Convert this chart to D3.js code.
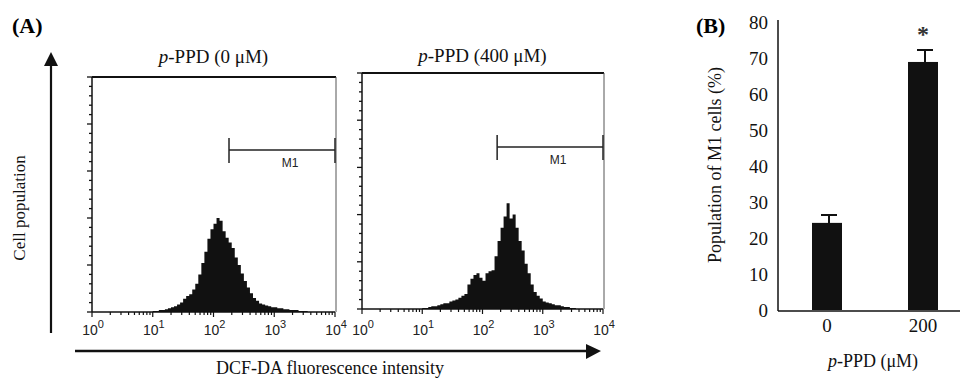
<!DOCTYPE html>
<html>
<head>
<meta charset="utf-8">
<script src="https://cdn.jsdelivr.net/npm/d3@7"></script>
<style>
  body { margin: 0; background: #fff; }
  svg { display: block; }
  .serif { font-family: 'Liberation Serif', 'Times New Roman', serif; }
  .sans { font-family: 'Liberation Sans', Arial, sans-serif; }
</style>
</head>
<body>
<div id="chart"></div>
<script>
// ---- data ----
// histogram channels in log10(intensity) units, one every 0.05 decade
const binLog = d3.range(52).map((i) => 1 + i * 0.05);

// p-PPD 0 uM, counts per channel
const countsControl = [
  1, 1, 2, 2, 3, 4, 5, 6, 8, 10,
  14, 17, 19, 24, 30, 40, 52, 64, 78, 88,
  94, 100, 97, 86, 79, 74, 68, 58, 50, 41,
  33, 26, 20, 15, 12, 9, 8, 7, 6, 5,
  5, 4, 4, 3, 3, 2, 2, 2, 1, 1,
  1, 0,
];

// p-PPD 400 uM, counts per channel
const countsTreated = [
  1, 1, 2, 3, 3, 4, 5, 6, 6, 8,
  9, 10, 12, 14, 16, 26, 32, 36, 38, 33,
  30, 38, 40, 41, 56, 72, 86, 98, 112, 96,
  100, 86, 72, 62, 48, 38, 26, 18, 14, 11,
  8, 7, 6, 5, 4, 4, 3, 2, 2, 1,
  1, 0,
];

const histTitles = ['0 μM', '400 μM'];
const gateStart = [180, 175]; // M1 gate lower bound (intensity)
const gateEnd = 10000;
const decadeTicks = [1, 10, 100, 1000, 10000];
const countMax = 250;

// panel B
const doseLabels = ['0', '200'];
const m1Means = [24.2, 68.9];
const m1Errors = [2.2, 3.3];
const percentTicks = [0, 10, 20, 30, 40, 50, 60, 70, 80];

const width = 960;
const height = 379;
const ink = '#111';

const svg = d3
  .select('#chart')
  .append('svg')
  .attr('width', width)
  .attr('height', height)
  .attr('viewBox', `0 0 ${width} ${height}`);

svg.append('rect').attr('width', width).attr('height', height).attr('fill', '#fff');

/**
 * Draws one flow cytometry histogram panel
 */
const drawHistogram = (counts, cfg) => {
  const x = d3.scaleLog().domain([1, 10000]).range([cfg.left, cfg.right]);
  const y = d3.scaleLinear().domain([0, countMax]).range([cfg.bottom, cfg.top]);
  const g = svg.append('g');

  const bins = binLog.map((b, i) => ({ v: Math.pow(10, b), c: counts[i] }));

  // filled histogram
  g.append('path')
    .datum(bins)
    .attr('fill', ink)
    .attr(
      'd',
      d3
        .area()
        .curve(d3.curveStepAfter)
        .x((d) => x(d.v))
        .y0(y(0))
        .y1((d) => y(d.c))
    );

  // frame: top and right
  g.append('line')
    .attr('x1', cfg.left).attr('x2', cfg.right + 1)
    .attr('y1', cfg.top).attr('y2', cfg.top)
    .attr('stroke', ink).attr('stroke-width', 2);
  g.append('line')
    .attr('x1', cfg.right + 1).attr('x2', cfg.right + 1)
    .attr('y1', cfg.top).attr('y2', cfg.bottom)
    .attr('stroke', '#555').attr('stroke-width', 1);

  // y axis with minor ticks
  g.append('line')
    .attr('x1', cfg.left).attr('x2', cfg.left)
    .attr('y1', cfg.top).attr('y2', cfg.bottom)
    .attr('stroke', ink).attr('stroke-width', 1.5);
  g.selectAll('.ytick')
    .data(d3.range(0, countMax + 1, 10))
    .join('line')
    .attr('x1', (d) => cfg.left - (d % 50 === 0 ? 5 : 3))
    .attr('x2', cfg.left)
    .attr('y1', (d) => y(d)).attr('y2', (d) => y(d))
    .attr('stroke', ink).attr('stroke-width', 1.3);

  // x axis with log minor ticks
  g.append('line')
    .attr('x1', cfg.left).attr('x2', cfg.right)
    .attr('y1', cfg.bottom).attr('y2', cfg.bottom)
    .attr('stroke', ink).attr('stroke-width', 1.5);
  g.selectAll('.xtick')
    .data(x.ticks())
    .join('line')
    .attr('x1', (d) => x(d)).attr('x2', (d) => x(d))
    .attr('y1', cfg.bottom)
    .attr('y2', (d) => cfg.bottom + (decadeTicks.includes(d) ? 5 : 3))
    .attr('stroke', ink).attr('stroke-width', 1.2);

  // tick labels as 10^n
  const labels = g.selectAll('.xlab')
    .data(decadeTicks)
    .join('text')
    .attr('class', 'sans')
    .attr('x', (d) => x(d) + 1)
    .attr('y', 335)
    .attr('text-anchor', 'middle')
    .attr('font-size', 14)
    .attr('fill', '#222');
  labels.append('tspan').text('10');
  labels.append('tspan')
    .attr('dy', -7)
    .attr('font-size', 11)
    .text((d) => Math.round(Math.log10(d)));

  // title
  const title = g.append('text')
    .attr('class', 'serif')
    .attr('x', (cfg.left + cfg.right) / 2)
    .attr('y', cfg.titleY)
    .attr('text-anchor', 'middle')
    .attr('font-size', 19)
    .attr('fill', ink);
  title.append('tspan').attr('font-style', 'italic').text('p');
  title.append('tspan').text(`-PPD (${cfg.title})`);

  // M1 gate marker
  const gx1 = x(cfg.gate);
  const gx2 = x(gateEnd);
  g.append('line')
    .attr('x1', gx1).attr('x2', gx2)
    .attr('y1', cfg.gateY).attr('y2', cfg.gateY)
    .attr('stroke', '#222').attr('stroke-width', 1.5);
  [gx1, gx2].forEach((gx) => {
    g.append('line')
      .attr('x1', gx).attr('x2', gx)
      .attr('y1', cfg.gateY - 12).attr('y2', cfg.gateY + 13)
      .attr('stroke', '#222').attr('stroke-width', 1.5);
  });
  g.append('text')
    .attr('class', 'sans')
    .attr('x', (gx1 + gx2) / 2 + 8)
    .attr('y', cfg.gateY + 17)
    .attr('text-anchor', 'middle')
    .attr('font-size', 12)
    .attr('fill', '#222')
    .text('M1');
};

drawHistogram(countsControl, {
  left: 92, right: 335, top: 77, bottom: 312, titleY: 63,
  title: histTitles[0], gate: gateStart[0], gateY: 150,
});
drawHistogram(countsTreated, {
  left: 362, right: 603, top: 73, bottom: 309, titleY: 62,
  title: histTitles[1], gate: gateStart[1], gateY: 147,
});

// panel letters
svg.append('text')
  .attr('class', 'serif')
  .attr('x', 12).attr('y', 33)
  .attr('font-size', 22).attr('font-weight', 'bold')
  .text('(A)');
svg.append('text')
  .attr('class', 'serif')
  .attr('x', 696).attr('y', 33)
  .attr('font-size', 22).attr('font-weight', 'bold')
  .text('(B)');

// arrows for panel A
svg.append('line')
  .attr('x1', 51).attr('x2', 51)
  .attr('y1', 333).attr('y2', 64)
  .attr('stroke', ink).attr('stroke-width', 2.2);
svg.append('path')
  .attr('d', 'M44,66 L51,52 L58,66 Z')
  .attr('fill', ink);
svg.append('line')
  .attr('x1', 75).attr('x2', 588)
  .attr('y1', 351).attr('y2', 351)
  .attr('stroke', ink).attr('stroke-width', 2.5);
svg.append('path')
  .attr('d', 'M586,344 L601,351 L586,359 Z')
  .attr('fill', ink);

svg.append('text')
  .attr('class', 'serif')
  .attr('transform', 'translate(25, 208) rotate(-90)')
  .attr('text-anchor', 'middle')
  .attr('font-size', 17)
  .attr('fill', ink)
  .text('Cell population');

svg.append('text')
  .attr('class', 'serif')
  .attr('x', 330).attr('y', 374)
  .attr('text-anchor', 'middle')
  .attr('font-size', 18)
  .attr('fill', ink)
  .text('DCF-DA fluorescence intensity');

// ---- panel B: bar chart ----
const bx = d3
  .scaleBand()
  .domain(doseLabels)
  .range([779, 971])
  .paddingInner(0.6875)
  .paddingOuter(0.34375);
const by = d3.scaleLinear().domain([0, 80]).range([310, 22]);

const gb = svg.append('g');

gb.selectAll('.bar')
  .data(doseLabels)
  .join('rect')
  .attr('x', (d) => bx(d))
  .attr('y', (d, i) => by(m1Means[i]))
  .attr('width', bx.bandwidth())
  .attr('height', (d, i) => by(0) - by(m1Means[i]))
  .attr('fill', ink);

// error bars (upper only)
gb.selectAll('.err')
  .data(doseLabels)
  .join('path')
  .attr('d', (d, i) => {
    const cx = bx(d) + bx.bandwidth() / 2 + 2;
    const top = by(m1Means[i] + m1Errors[i]);
    return `M${cx},${by(m1Means[i])} L${cx},${top} M${cx - 8},${top} L${cx + 8},${top}`;
  })
  .attr('stroke', ink)
  .attr('stroke-width', 2)
  .attr('fill', 'none');

// significance marker
gb.append('text')
  .attr('class', 'serif')
  .attr('x', bx('200') + bx.bandwidth() / 2)
  .attr('y', by(m1Means[1] + m1Errors[1]) - 8)
  .attr('text-anchor', 'middle')
  .attr('font-size', 24)
  .attr('font-weight', 'bold')
  .attr('fill', '#333')
  .text('*');

// y axis
const yAxisB = gb.append('g')
  .attr('transform', 'translate(778,0)')
  .call(d3.axisLeft(by).tickValues(percentTicks).tickSize(0).tickPadding(10));
yAxisB.select('.domain').attr('d', 'M0,20 V311').attr('stroke', ink).attr('stroke-width', 1.5);
yAxisB.selectAll('text')
  .attr('class', 'serif')
  .attr('font-size', 19)
  .attr('fill', ink);

// x axis
const xAxisB = gb.append('g')
  .attr('transform', 'translate(0,311)')
  .call(d3.axisBottom(bx).tickSize(0).tickPadding(8));
xAxisB.select('.domain').attr('d', 'M778,0 H960').attr('stroke', ink).attr('stroke-width', 1.5);
xAxisB.selectAll('text')
  .attr('class', 'serif')
  .attr('font-size', 19)
  .attr('fill', ink);

gb.append('text')
  .attr('class', 'serif')
  .attr('transform', 'translate(721, 165) rotate(-90)')
  .attr('text-anchor', 'middle')
  .attr('font-size', 18)
  .attr('fill', ink)
  .text('Population of M1 cells (%)');

const xt = gb.append('text')
  .attr('class', 'serif')
  .attr('x', 873).attr('y', 367)
  .attr('text-anchor', 'middle')
  .attr('font-size', 18)
  .attr('fill', ink);
xt.append('tspan').attr('font-style', 'italic').text('p');
xt.append('tspan').text('-PPD (μM)');
</script>
</body>
</html>
